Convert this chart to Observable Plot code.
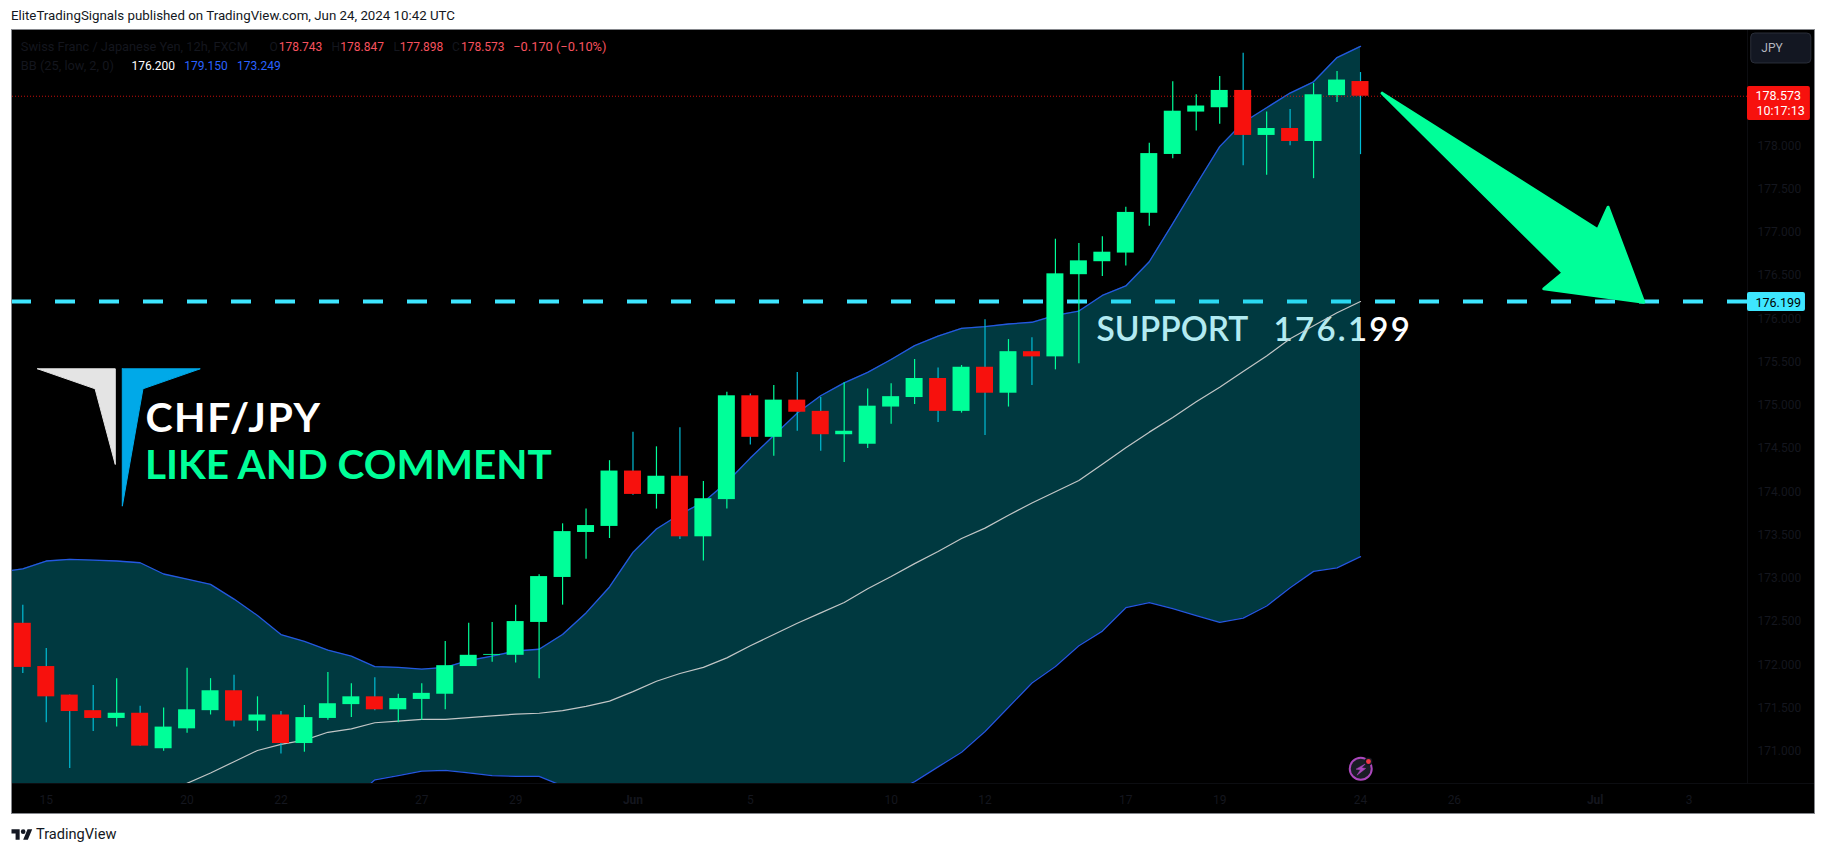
<!DOCTYPE html>
<html>
<head>
<meta charset="utf-8">
<script src="https://cdn.jsdelivr.net/npm/d3@7"></script>
<script src="https://cdn.jsdelivr.net/npm/@observablehq/plot@0.6"></script>
<style>
  html, body { margin: 0; padding: 0; background: #fff; width: 1826px; height: 853px; overflow: hidden; }
  #head { position: absolute; left: 11px; top: 8px; font: 13.3px/16px Roboto, sans-serif; color: #131722; white-space: pre; }
  #foot { position: absolute; left: 11px; top: 825px; display: flex; align-items: center; gap: 3px; font: 14.6px/18px Roboto, sans-serif; color: #131722; }
  #chart { position: absolute; left: 12px; top: 30px; }
  #chart svg { display: block; outline: 1px solid #85878c; }
</style>
</head>
<body>
<div id="head">EliteTradingSignals published on TradingView.com, Jun 24, 2024 10:42 UTC</div>
<div id="chart"></div>
<div id="foot"><svg width="22" height="14" viewBox="0 0 36 24"><path fill="#131722" d="M14 22H7V11H0V4h14v18zM28 22h-8l7.5-18h8L28 22z"/><circle fill="#131722" cx="20" cy="8" r="4"/></svg><span>TradingView</span></div>
<script>
// 12h candles, left to right
const open = [172.48,171.98,171.65,171.47,171.38,171.44,171.03,171.26,171.47,171.70,171.35,171.42,171.09,171.38,171.54,171.63,171.48,171.60,171.66,171.98,172.11,172.11,172.49,173.01,173.53,173.60,174.24,173.97,174.18,173.48,173.91,175.11,174.63,175.06,174.93,174.66,174.55,174.98,175.09,175.31,174.93,175.44,175.14,175.62,175.56,176.51,176.66,176.76,177.22,177.90,178.39,178.44,178.64,178.12,178.20,178.05,178.58,178.743];
const high = [172.69,172.19,171.65,171.76,171.84,171.52,171.50,171.96,171.84,171.88,171.63,171.46,171.53,171.91,171.78,171.85,171.66,171.78,172.27,172.48,172.49,172.69,173.04,173.63,173.80,174.36,174.69,174.52,174.74,174.12,175.15,175.13,175.23,175.38,175.09,175.26,175.19,175.25,175.53,175.43,175.46,175.99,175.76,175.78,176.92,176.87,176.95,177.29,178.03,178.74,178.59,178.80,179.07,178.39,178.42,178.72,178.86,178.847];
const low = [171.90,171.33,170.80,171.23,171.28,171.06,171.00,171.21,171.42,171.28,171.23,170.97,170.99,171.36,171.39,171.47,171.33,171.36,171.48,171.98,172.03,172.02,171.84,172.69,173.22,173.46,173.96,173.80,173.45,173.20,173.80,174.54,174.41,174.70,174.47,174.34,174.50,174.78,175.01,174.80,174.91,174.65,174.98,175.23,175.41,175.48,176.49,176.61,177.07,177.85,178.17,178.25,177.77,177.66,178.00,177.62,178.50,177.898];
const close = [171.97,171.63,171.46,171.38,171.44,171.06,171.28,171.48,171.70,171.35,171.42,171.09,171.39,171.55,171.63,171.48,171.61,171.67,171.99,172.11,172.12,172.50,173.02,173.54,173.61,174.24,173.97,174.18,173.48,173.92,175.11,174.63,175.06,174.92,174.66,174.70,174.99,175.10,175.31,174.93,175.44,175.14,175.62,175.56,176.52,176.67,176.77,177.23,177.91,178.40,178.46,178.64,178.12,178.20,178.05,178.59,178.76,178.573];

// Bollinger bands, starting one bar before the first candle
const upper = [173.07,173.11,173.20,173.22,173.21,173.20,173.18,173.05,172.99,172.93,172.76,172.57,172.35,172.27,172.17,172.10,171.98,171.97,171.95,171.97,172.05,172.10,172.16,172.18,172.35,172.60,172.90,173.30,173.57,173.74,173.88,174.11,174.39,174.65,174.91,175.11,175.26,175.38,175.53,175.69,175.80,175.89,175.91,175.94,175.96,176.04,176.09,176.27,176.38,176.66,177.10,177.55,177.99,178.27,178.44,178.61,178.74,179.02,179.15];
const basis = [169.50,169.65,169.80,169.95,170.10,170.25,170.38,170.50,170.63,170.75,170.88,171.01,171.08,171.13,171.22,171.26,171.33,171.35,171.37,171.37,171.39,171.41,171.43,171.44,171.47,171.52,171.58,171.69,171.81,171.90,171.97,172.08,172.22,172.35,172.48,172.60,172.72,172.88,173.02,173.17,173.31,173.46,173.58,173.73,173.87,174.00,174.13,174.32,174.51,174.69,174.86,175.04,175.21,175.39,175.57,175.77,175.92,176.07,176.20];
const lower = [169.30,169.30,169.30,169.30,169.30,169.30,169.30,169.30,169.30,169.30,169.35,169.45,169.81,169.98,170.27,170.44,170.67,170.72,170.77,170.78,170.75,170.72,170.71,170.71,170.60,170.44,170.26,170.09,170.04,170.06,170.06,170.09,170.05,170.05,170.05,170.09,170.18,170.37,170.52,170.65,170.82,170.99,171.23,171.51,171.79,171.98,172.22,172.39,172.66,172.72,172.65,172.57,172.49,172.54,172.68,172.89,173.08,173.12,173.25];

// Axes
const priceTicks = [171,171.5,172,172.5,173,173.5,174,174.5,175,175.5,176,176.5,177,177.5,178];
const dayTicks = [1,7,11,17,21,31,37,41,47,51,57,61,71];
const dayLabels = ["15","20","22","27","29","5","10","12","17","19","24","26","3"];
const monthTicks = [26,67];
const monthLabels = ["Jun","Jul"];

// Levels
const lastPrice = 178.573;
const supportPrice = 176.199;

// Drawn shapes, in bar index and price
const arrowBar = [57.92,67.11,67.55,69.07,64.81,65.63,57.92];
const arrowPrice = [178.608,177.029,177.290,176.192,176.347,176.532,178.608];
const logoGreyBar = [0.63,3.94,3.94,3.08,0.63];
const logoGreyPrice = [175.422,175.422,174.316,175.191,175.422];
const logoBlueBar = [4.24,7.56,5.12,4.24,4.24];
const logoBluePrice = [175.422,175.422,175.191,173.834,175.422];
const boltBar = [57.21,56.81,57.0,56.85,57.22,57.05,57.21];
const boltPrice = [170.856,170.794,170.787,170.724,170.802,170.810,170.856];

const GREEN = "#00ff99", RED = "#f7110d", RED_WICK = "#00bcd4", CYAN = "#3ee6ff", FAINT = "#14161e";
const BIG = "Lato, sans-serif", SMALL = "Roboto, sans-serif";

const bars = open.map((o, i) => ({i, o, h: high[i], l: low[i], c: close[i], up: close[i] >= o}));
const bands = upper.map((u, k) => ({i: k - 1, u, m: basis[k], d: lower[k]}));
const shape = (xs, ys) => xs.map((x, k) => ({x, y: ys[k]}));

const label = (text, x, y, o = {}) => Plot.text([text], {
  frameAnchor: "top-left", dx: x - 12, dy: y - 30, textAnchor: "start", lineAnchor: "middle",
  fontFamily: SMALL, fontSize: 12, ...o
});
const poly = (pts, fill, o = {}) => Plot.line(pts, {x: "x", y: "y", fill, stroke: fill, strokeWidth: 1, strokeLinejoin: "round", ...o});

const red = "#f7525f";
const chart = Plot.plot({
  width: 1802,
  height: 783,
  marginLeft: 0, marginRight: 67, marginTop: 0, marginBottom: 30,
  style: {background: "#000", fontFamily: SMALL, overflow: "visible"},
  x: {domain: [-0.439, 73.49], axis: null},
  y: {domain: [170.628, 179.333], axis: null},
  marks: [
    // beneath the translucent band
    label("SUPPORT", 1096, 330, {fontFamily: BIG, fontSize: 33.6, fontWeight: 600, fill: "#fff"}),
    label("176.199", 1273, 330, {fontFamily: BIG, fontSize: 33, fontWeight: 600, fill: "#fff"}),
    Plot.ruleY([supportPrice], {stroke: CYAN, strokeWidth: 4, strokeDasharray: "20,24", strokeDashoffset: 1}),
    Plot.areaY(bands, {x: "i", y1: "d", y2: "u", fill: "#00bcd4", fillOpacity: 0.3, clip: true}),
    Plot.line(bands, {x: "i", y: "m", stroke: "#c2c6c6", strokeWidth: 1.2, clip: true}),
    Plot.line(bands, {x: "i", y: "u", stroke: "#2458e0", strokeWidth: 1.3, clip: true}),
    Plot.line(bands, {x: "i", y: "d", stroke: "#2458e0", strokeWidth: 1.3, clip: true}),
    Plot.ruleY([lastPrice], {stroke: RED, strokeWidth: 1, strokeDasharray: "1,2", strokeOpacity: 0.8}),

    // candles
    Plot.ruleX(bars, {x: "i", y1: "l", y2: "h", stroke: d => d.up ? GREEN : RED_WICK, strokeWidth: 1.2}),
    Plot.rect(bars, {
      x1: d => d.i - 0.362, x2: d => d.i + 0.362,
      y1: "o", y2: "c", fill: d => d.up ? GREEN : RED
    }),

    // drawings
    poly(shape(arrowBar, arrowPrice), GREEN, {strokeWidth: 3}),
    poly(shape(logoGreyBar, logoGreyPrice), "#e4e4e4"),
    poly(shape(logoBlueBar, logoBluePrice), "#00a9e8"),
    label("CHF/JPY", 145, 418, {fontFamily: BIG, fontSize: 41, fontWeight: 700, fill: "#fff"}),
    label("LIKE AND COMMENT", 144.5, 466, {fontFamily: BIG, fontSize: 40.5, fontWeight: 700, fill: GREEN}),

    // legend rows
    label("Swiss Franc / Japanese Yen, 12h, FXCM", 20.3, 46.7, {fill: FAINT, fontSize: 12.8}),
    label("O", 269, 46.7, {fill: FAINT}), label("178.743", 278.2, 46.7, {fill: red}),
    label("H", 331, 46.7, {fill: FAINT}), label("178.847", 339.8, 46.7, {fill: red}),
    label("L", 393, 46.7, {fill: FAINT}), label("177.898", 399.2, 46.7, {fill: red}),
    label("C", 451.6, 46.7, {fill: FAINT}), label("178.573", 460.4, 46.7, {fill: red}),
    label("\u22120.170 (\u22120.10%)", 512.8, 46.7, {fill: red, fontSize: 12.8}),
    label("BB (25, low, 2, 0)", 20.3, 65.7, {fill: FAINT, fontSize: 12.8}),
    label("176.200", 130.9, 65.7, {fill: "#fff"}),
    label("179.150", 183.7, 65.7, {fill: "#2962ff"}),
    label("173.249", 236.5, 65.7, {fill: "#2962ff"}),

    // alert icon
    Plot.dot([{x: 57.01, y: 170.798}], {x: "x", y: "y", r: 11, fill: "#1a1d26", stroke: "#ab47bc", strokeWidth: 2}),
    poly(shape(boltBar, boltPrice), "#ab47bc", {strokeWidth: 0.5}),
    Plot.dot([{x: 57.34, y: 170.883}], {x: "x", y: "y", r: 3.2, fill: "#f23645", stroke: "#131722", strokeWidth: 1.5}),

    // price scale furniture
    Plot.ruleX([73.49], {stroke: "#0c0d11"}),
    Plot.ruleY([170.628], {x1: -0.439, x2: 76.35, stroke: "#0c0d11"}),
    Plot.axisY({anchor: "right", ticks: priceTicks, tickFormat: d => d.toFixed(3), tickSize: 0, tickPadding: 10, fill: FAINT, fontSize: 12, label: null}),
    Plot.axisX({anchor: "bottom", ticks: dayTicks, tickFormat: d => dayLabels[dayTicks.indexOf(d)], tickSize: 0, tickPadding: 12, fill: FAINT, fontSize: 12, label: null}),
    Plot.axisX({anchor: "bottom", ticks: monthTicks, tickFormat: d => monthLabels[monthTicks.indexOf(d)], tickSize: 0, tickPadding: 12, fill: FAINT, fontSize: 12, fontWeight: 700, label: null}),

    // price tags
    Plot.rect([0], {x1: 73.49, x2: 76.17, y1: 178.293, y2: 178.686, fill: RED, rx: 2}),
    Plot.text(["178.573"], {x: 74.8, y: 178.573, fill: "#fff", fontSize: 12.5}),
    Plot.text(["10:17:13"], {x: 74.9, y: 178.40, fill: "#fff", fontSize: 12.5}),
    Plot.rect([0], {x1: 73.49, x2: 75.96, y1: 176.085, y2: 176.304, fill: CYAN, rx: 2}),
    Plot.text(["176.199"], {x: 74.8, y: 176.185, fill: "#000", fontSize: 12.5}),
    Plot.rect([0], {x1: 73.65, x2: 76.21, y1: 178.952, y2: 179.298, fill: "#131722", stroke: "#2a2e39", rx: 4}),
    Plot.text(["JPY"], {x: 74.08, y: 179.125, textAnchor: "start", fill: "#b2b5be", fontSize: 12})
  ]
});
// tracking for the hand-lettered annotation text
for (const t of chart.querySelectorAll("text")) {
  const s = t.textContent;
  if (s === "176.199" && parseFloat(t.closest("[font-size]")?.getAttribute("font-size")) > 30) t.style.letterSpacing = "2.3px";
  if (s === "CHF/JPY") t.style.letterSpacing = "1.5px";
}
document.getElementById("chart").append(chart);
</script>
</body>
</html>
